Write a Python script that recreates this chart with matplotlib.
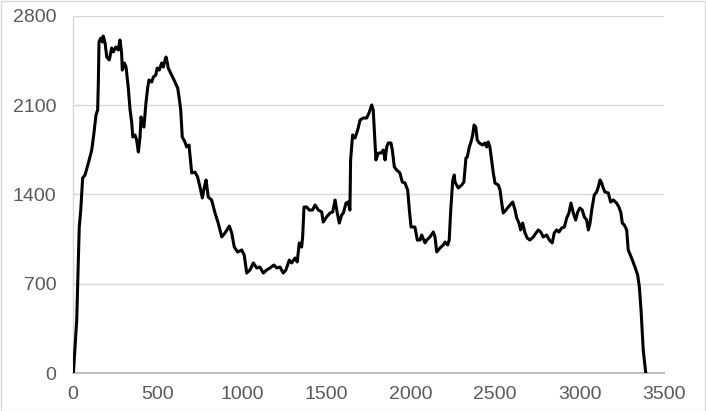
import matplotlib
matplotlib.use("Agg")
import matplotlib.pyplot as plt
from matplotlib.patches import Rectangle

x_values = [3, 22, 37, 46, 57, 71, 91, 111, 124, 136, 146, 150, 154, 164, 174, 179, 190, 200, 215, 229,
            239, 253, 268, 278, 288, 292, 304, 314, 327, 338, 348, 354, 367, 377, 387, 397, 403, 413, 420, 432,
            442, 450, 466, 476, 490, 499, 511, 525, 535, 545, 551, 560, 564, 584, 604, 620, 628, 638, 647, 663,
            673, 687, 703, 722, 738, 752, 766, 778, 788, 801, 821, 841, 860, 881, 900, 926, 940, 955, 975, 999,
            1014, 1029, 1048, 1068, 1088, 1107, 1127, 1147, 1167, 1190, 1206, 1226, 1245, 1261, 1281, 1295, 1315, 1328, 1340, 1354,
            1360, 1368, 1384, 1399, 1419, 1433, 1453, 1473, 1482, 1502, 1522, 1538, 1552, 1565, 1577, 1591, 1601, 1617, 1630, 1640,
            1644, 1656, 1670, 1686, 1700, 1719, 1739, 1753, 1769, 1778, 1788, 1794, 1808, 1824, 1838, 1848, 1858, 1867, 1883, 1891,
            1903, 1917, 1936, 1950, 1966, 1982, 1992, 2002, 2025, 2039, 2055, 2065, 2085, 2095, 2114, 2134, 2144, 2154, 2173, 2193,
            2203, 2219, 2228, 2237, 2249, 2258, 2262, 2282, 2302, 2315, 2327, 2335, 2347, 2357, 2367, 2375, 2385, 2394, 2406, 2426,
            2440, 2450, 2459, 2469, 2479, 2489, 2499, 2519, 2529, 2539, 2548, 2564, 2578, 2604, 2618, 2628, 2641, 2651, 2663, 2677,
            2690, 2706, 2726, 2742, 2756, 2770, 2785, 2805, 2821, 2838, 2850, 2864, 2878, 2894, 2910, 2924, 2937, 2949, 2963, 2977,
            2989, 3002, 3016, 3028, 3042, 3052, 3062, 3072, 3087, 3101, 3111, 3121, 3131, 3140, 3150, 3170, 3184, 3200, 3219, 3233,
            3245, 3253, 3265, 3279, 3288, 3308, 3328, 3344, 3354, 3364, 3377, 3392]

y_values = [10, 416, 1145, 1278, 1529, 1553, 1647, 1749, 1882, 2023, 2063, 2274, 2596, 2627, 2596, 2643, 2588, 2478, 2455, 2549,
            2518, 2557, 2533, 2612, 2510, 2376, 2431, 2400, 2243, 2063, 1961, 1851, 1867, 1827, 1733, 1851, 2008, 1945, 1929, 2118,
            2235, 2298, 2282, 2322, 2337, 2392, 2376, 2431, 2400, 2455, 2478, 2424, 2392, 2337, 2282, 2235, 2165, 2063, 1851, 1812,
            1773, 1788, 1569, 1576, 1537, 1459, 1373, 1459, 1514, 1380, 1357, 1255, 1176, 1067, 1098, 1153, 1098, 988, 949, 965,
            925, 784, 808, 863, 824, 831, 784, 808, 824, 847, 824, 831, 784, 808, 886, 863, 902, 871, 1020, 988,
            1067, 1302, 1302, 1278, 1278, 1318, 1278, 1263, 1184, 1224, 1255, 1263, 1357, 1255, 1176, 1239, 1255, 1333, 1341, 1278,
            1671, 1867, 1843, 1906, 1984, 2000, 2000, 2039, 2102, 2063, 1827, 1671, 1725, 1725, 1749, 1671, 1773, 1804, 1804, 1749,
            1616, 1592, 1569, 1498, 1490, 1435, 1278, 1145, 1145, 1043, 1043, 1082, 1020, 1043, 1067, 1106, 1067, 949, 980, 1004,
            1027, 1004, 1043, 1278, 1514, 1553, 1498, 1451, 1474, 1498, 1686, 1694, 1773, 1812, 1867, 1945, 1929, 1827, 1804, 1788,
            1804, 1773, 1812, 1773, 1671, 1569, 1490, 1474, 1435, 1333, 1255, 1278, 1302, 1341, 1278, 1216, 1176, 1122, 1176, 1098,
            1059, 1043, 1067, 1098, 1122, 1106, 1067, 1082, 1043, 1020, 1098, 1122, 1106, 1137, 1145, 1216, 1255, 1333, 1255, 1200,
            1263, 1294, 1278, 1224, 1200, 1122, 1176, 1278, 1396, 1420, 1459, 1514, 1490, 1451, 1420, 1412, 1341, 1357, 1333, 1302,
            1255, 1176, 1161, 1122, 965, 902, 831, 769, 675, 494, 180, 0]

x_ticks = [0, 500, 1000, 1500, 2000, 2500, 3000, 3500]
y_ticks = [0, 700, 1400, 2100, 2800]

plt.rcParams['font.family'] = ['Liberation Sans', 'DejaVu Sans']

fig = plt.figure(figsize=(7.06, 4.11), dpi=100)
ax = fig.add_axes([73/706, 38/411, (664-73)/706, (373-16)/411])

ax.plot(x_values, y_values, color='black', linewidth=2.2, solid_joinstyle='round', zorder=3)

ax.set_xlim(0, 3500)
ax.set_ylim(0, 2800)
ax.set_xticks(x_ticks)
ax.set_yticks(y_ticks)
ax.set_xticklabels([str(v) for v in x_ticks])
ax.set_yticklabels([str(v) for v in y_ticks])

ax.grid(axis='y', color='#d9d9d9', linewidth=1.0, zorder=0)
ax.set_axisbelow(True)
for s in ['right', 'top']:
    ax.spines[s].set_visible(False)
ax.spines['left'].set_color('#d9d9d9')
ax.spines['left'].set_linewidth(1.0)
ax.spines['bottom'].set_color('#bfbfbf')
ax.spines['bottom'].set_linewidth(1.5)
ax.spines['bottom'].set_zorder(2)

ax.tick_params(axis='both', length=0, labelsize=14, colors='#595959')
ax.tick_params(axis='x', pad=9)
ax.tick_params(axis='y', pad=12)

fig.patches.append(Rectangle((0.5/706, 0.5/411), 1 - 1.5/706, 1 - 1.5/411, transform=fig.transFigure,
                             fill=False, edgecolor='#d9d9d9', linewidth=1.0))

fig.savefig('out.png', dpi=100, facecolor='white')
